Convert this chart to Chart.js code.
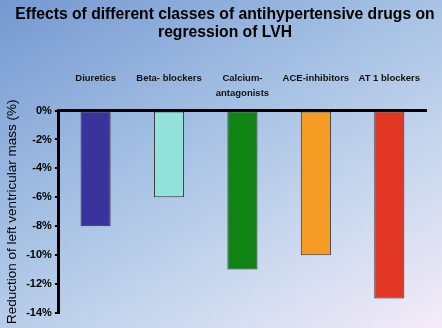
<!DOCTYPE html>
<html>
<head>
<meta charset="utf-8">
<script src="https://cdn.jsdelivr.net/npm/chart.js@4.4.0/dist/chart.umd.min.js"></script>
<style>
  html, body { margin: 0; padding: 0; }
  body {
    width: 442px; height: 328px; overflow: hidden;
    background: linear-gradient(150deg, #7498d1 0%, #a3bfe3 40%, #c9d8ee 70%, #f5ebf8 100%);
  }
  #wrap { width: 442px; height: 328px; position: relative; }
</style>
</head>
<body>
<div id="wrap"><canvas id="lvhChart"></canvas></div>
<script>
var categories = ['Diuretics', 'Beta- blockers', ['Calcium-', 'antagonists'], 'ACE-inhibitors', 'AT 1 blockers'];
var reduction = [-8, -6, -11, -10, -13]; // % change of LV mass
var barColors = ['#3a339b', '#92e2d9', '#118214', '#f69b24', '#e03623'];
var yTicks = [0, -2, -4, -6, -8, -10, -12, -14];

document.addEventListener("DOMContentLoaded", function () {
    var ctx = document.getElementById('lvhChart').getContext('2d');

    // title in the original sits a bit right of the plot centre
    var shiftTitle = {
        id: 'shiftTitle',
        afterLayout: function (chart) {
            if (chart.titleBlock) {
                chart.titleBlock.left = 8;
                chart.titleBlock.right = 442;
            }
        }
    };

    new Chart(ctx, {
        type: 'bar',
        data: {
            labels: categories,
            datasets: [{
                data: reduction,
                backgroundColor: barColors,
                borderColor: '#333333',
                borderWidth: 1,
                borderSkipped: false,
                categoryPercentage: 1,
                barPercentage: 0.41
            }]
        },
        options: {
            responsive: true,
            maintainAspectRatio: false,
            animation: false,
            layout: { padding: { left: 1, right: 16, top: 0, bottom: 15 } },
            plugins: {
                legend: { display: false },
                tooltip: { enabled: false },
                title: {
                    display: true,
                    text: ['Effects of different classes of antihypertensive drugs on', 'regression of LVH'],
                    color: '#000',
                    font: { family: 'Liberation Sans, Arial, sans-serif', size: 15.7, weight: 'bold', lineHeight: 1.15 },
                    padding: { top: 6, bottom: 19 }
                }
            },
            scales: {
                x: {
                    position: 'top',
                    grid: { display: false, drawTicks: false },
                    border: { display: true, color: '#000', width: 3 },
                    ticks: {
                        color: '#111',
                        crossAlign: 'far',
                        padding: 10,
                        maxRotation: 0,
                        autoSkip: false,
                        font: { family: 'Liberation Sans, Arial, sans-serif', size: 9.5, weight: 'bold', lineHeight: 1.55 }
                    }
                },
                y: {
                    min: -14,
                    max: 0,
                    afterBuildTicks: function (axis) {
                        axis.ticks = yTicks.map(function (v) { return { value: v }; });
                    },
                    grid: { drawOnChartArea: false, drawTicks: true, tickLength: 4, color: '#000', lineWidth: 2 },
                    border: { display: true, color: '#000', width: 3 },
                    title: {
                        display: true,
                        text: 'Reduction of left ventricular mass (%)',
                        color: '#000',
                        font: { family: 'Liberation Sans, Arial, sans-serif', size: 13.5 },
                        padding: { top: 3, bottom: 3 }
                    },
                    ticks: {
                        color: '#000',
                        padding: 3,
                        font: { family: 'Liberation Sans, Arial, sans-serif', size: 11, weight: 'bold' },
                        callback: function (value) { return value + '%'; }
                    }
                }
            }
        },
        plugins: [shiftTitle]
    });
});
</script>
</body>
</html>
